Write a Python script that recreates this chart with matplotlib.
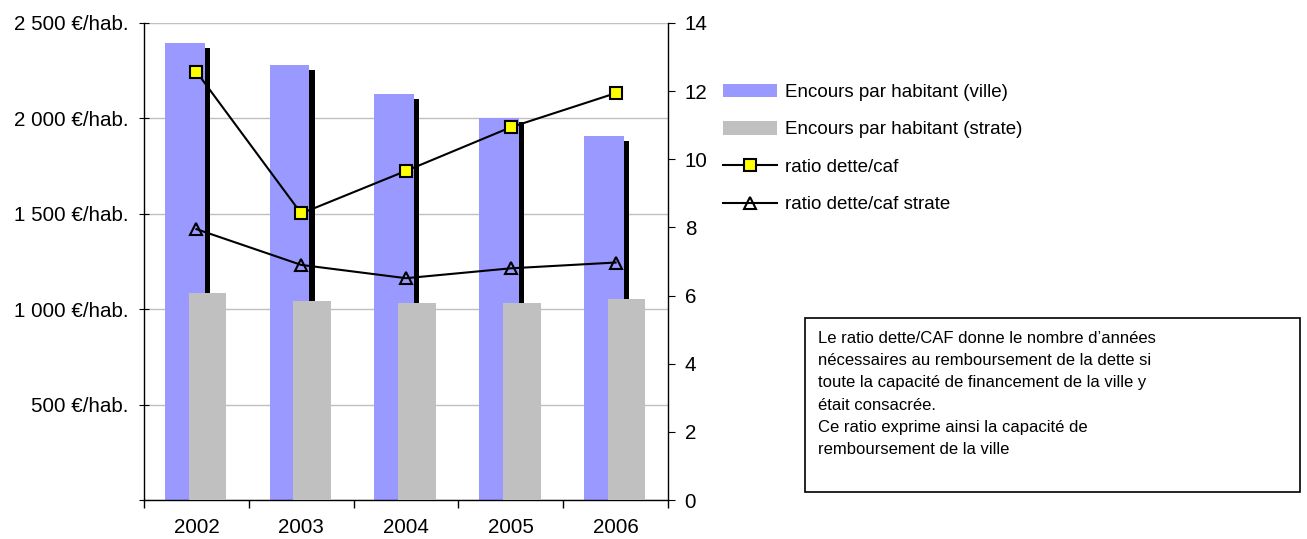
import matplotlib
matplotlib.use("Agg")
import matplotlib.pyplot as plt
from matplotlib.patches import Patch
from matplotlib.lines import Line2D
from matplotlib.ticker import FixedLocator, FuncFormatter
import numpy as np

plt.rcParams['font.family'] = ['Liberation Sans', 'DejaVu Sans']

years = ["2002", "2003", "2004", "2005", "2006"]
encours_ville = [2394, 2280, 2128, 2004, 1908]
encours_strate = [1085, 1043, 1034, 1034, 1053]
ratio_caf = [12.57, 8.41, 9.66, 10.94, 11.94]
ratio_caf_strate = [7.95, 6.90, 6.51, 6.80, 6.97]
left_ticks = [500, 1000, 1500, 2000, 2500]
right_ticks = [0, 2, 4, 6, 8, 10, 12, 14]

blue = "#9999ff"
gray = "#c0c0c0"
TFS = 14.8

fig = plt.figure(figsize=(13.07, 5.39), dpi=100)
W, H = 1307, 539
x0, x1, y0, y1 = 144, 668, 23, 500
ax = fig.add_axes([x0 / W, 1 - y1 / H, (x1 - x0) / W, (y1 - y0) / H])

x = np.arange(len(years))
bw_v, off_v = 0.38, -0.112
bw_s, off_s = 0.36, 0.105
sh_w = 0.05
sh_drop = 24

ax.bar(x + off_v, encours_ville, width=bw_v, color=blue, zorder=2)
ax.bar(x + off_v + bw_v / 2 + sh_w / 2, np.array(encours_ville) - sh_drop,
       width=sh_w, color="black", zorder=2.5)
ax.bar(x + off_s, encours_strate, width=bw_s, color=gray, zorder=3)

ax.set_xlim(-0.5, len(years) - 0.5)
ax.set_ylim(0, 2500)
ax.yaxis.set_major_locator(FixedLocator([0] + left_ticks))
ax.yaxis.set_major_formatter(FuncFormatter(
    lambda v, p: "" if v == 0 else f"{int(v):,}".replace(",", " ") + " €/hab."))
ax.grid(axis="y", color="#c0c0c0", linewidth=1, zorder=0)
ax.set_axisbelow(True)
ax.set_xticks(x)
ax.set_xticklabels(years)
ax.set_xticks(np.arange(-0.5, len(years)), minor=True)
ax.tick_params(axis="x", which="major", length=0, pad=13, labelsize=TFS)
ax.tick_params(axis="x", which="minor", length=6, direction="out", width=1)
ax.tick_params(axis="y", length=7, direction="inout", labelsize=TFS, pad=8)
for s in ["top", "right"]:
    ax.spines[s].set_visible(False)
for s in ["left", "bottom"]:
    ax.spines[s].set_linewidth(1)

ax2 = ax.twinx()
ax2.plot(x, ratio_caf, color="black", lw=1.5, marker="s", ms=8,
         mfc="#ffff00", mec="black", mew=1.5, zorder=5)
ax2.plot(x, ratio_caf_strate, color="black", lw=1.5, marker="^", ms=9,
         mfc="none", mec="black", mew=1.5, zorder=5)
ax2.set_ylim(0, 14)
ax2.set_yticks(right_ticks)
ax2.tick_params(axis="y", length=5, direction="out", labelsize=TFS, pad=7)
for s in ["top", "left", "bottom"]:
    ax2.spines[s].set_visible(False)
ax2.spines["right"].set_linewidth(1)

handles = [
    Patch(facecolor=blue, edgecolor="none"),
    Patch(facecolor=gray, edgecolor="none"),
    Line2D([], [], color="black", lw=1.5, marker="s", ms=8, mfc="#ffff00", mec="black", mew=1.5),
    Line2D([], [], color="black", lw=1.5, marker="^", ms=9, mfc="none", mec="black", mew=1.5),
]
labels = ["Encours par habitant (ville)", "Encours par habitant (strate)",
          "ratio dette/caf", "ratio dette/caf strate"]
fig.legend(handles, labels, loc="upper left", bbox_to_anchor=(723 / W, 1 - 84 / H),
           frameon=False, fontsize=13.5, handlelength=2.9, handleheight=0.7,
           labelspacing=1.08, handletextpad=0.43, borderaxespad=0, borderpad=0)

note = ("Le ratio dette/CAF donne le nombre d\u2019années\n"
        "nécessaires au remboursement de la dette si\n"
        "toute la capacité de financement de la ville y\n"
        "était consacrée.\n"
        "Ce ratio exprime ainsi la capacité de\n"
        "remboursement de la ville")
bx0, by0, bx1, by1 = 805, 318, 1300, 492
rect = plt.Rectangle((bx0 / W, 1 - by1 / H), (bx1 - bx0) / W, (by1 - by0) / H,
                     transform=fig.transFigure, fill=False, edgecolor="black", lw=1.2)
fig.patches.append(rect)
fig.text(818 / W, 1 - 331 / H, note, fontsize=12, va="top", ha="left", linespacing=1.6)

fig.savefig("out.png", dpi=100)
